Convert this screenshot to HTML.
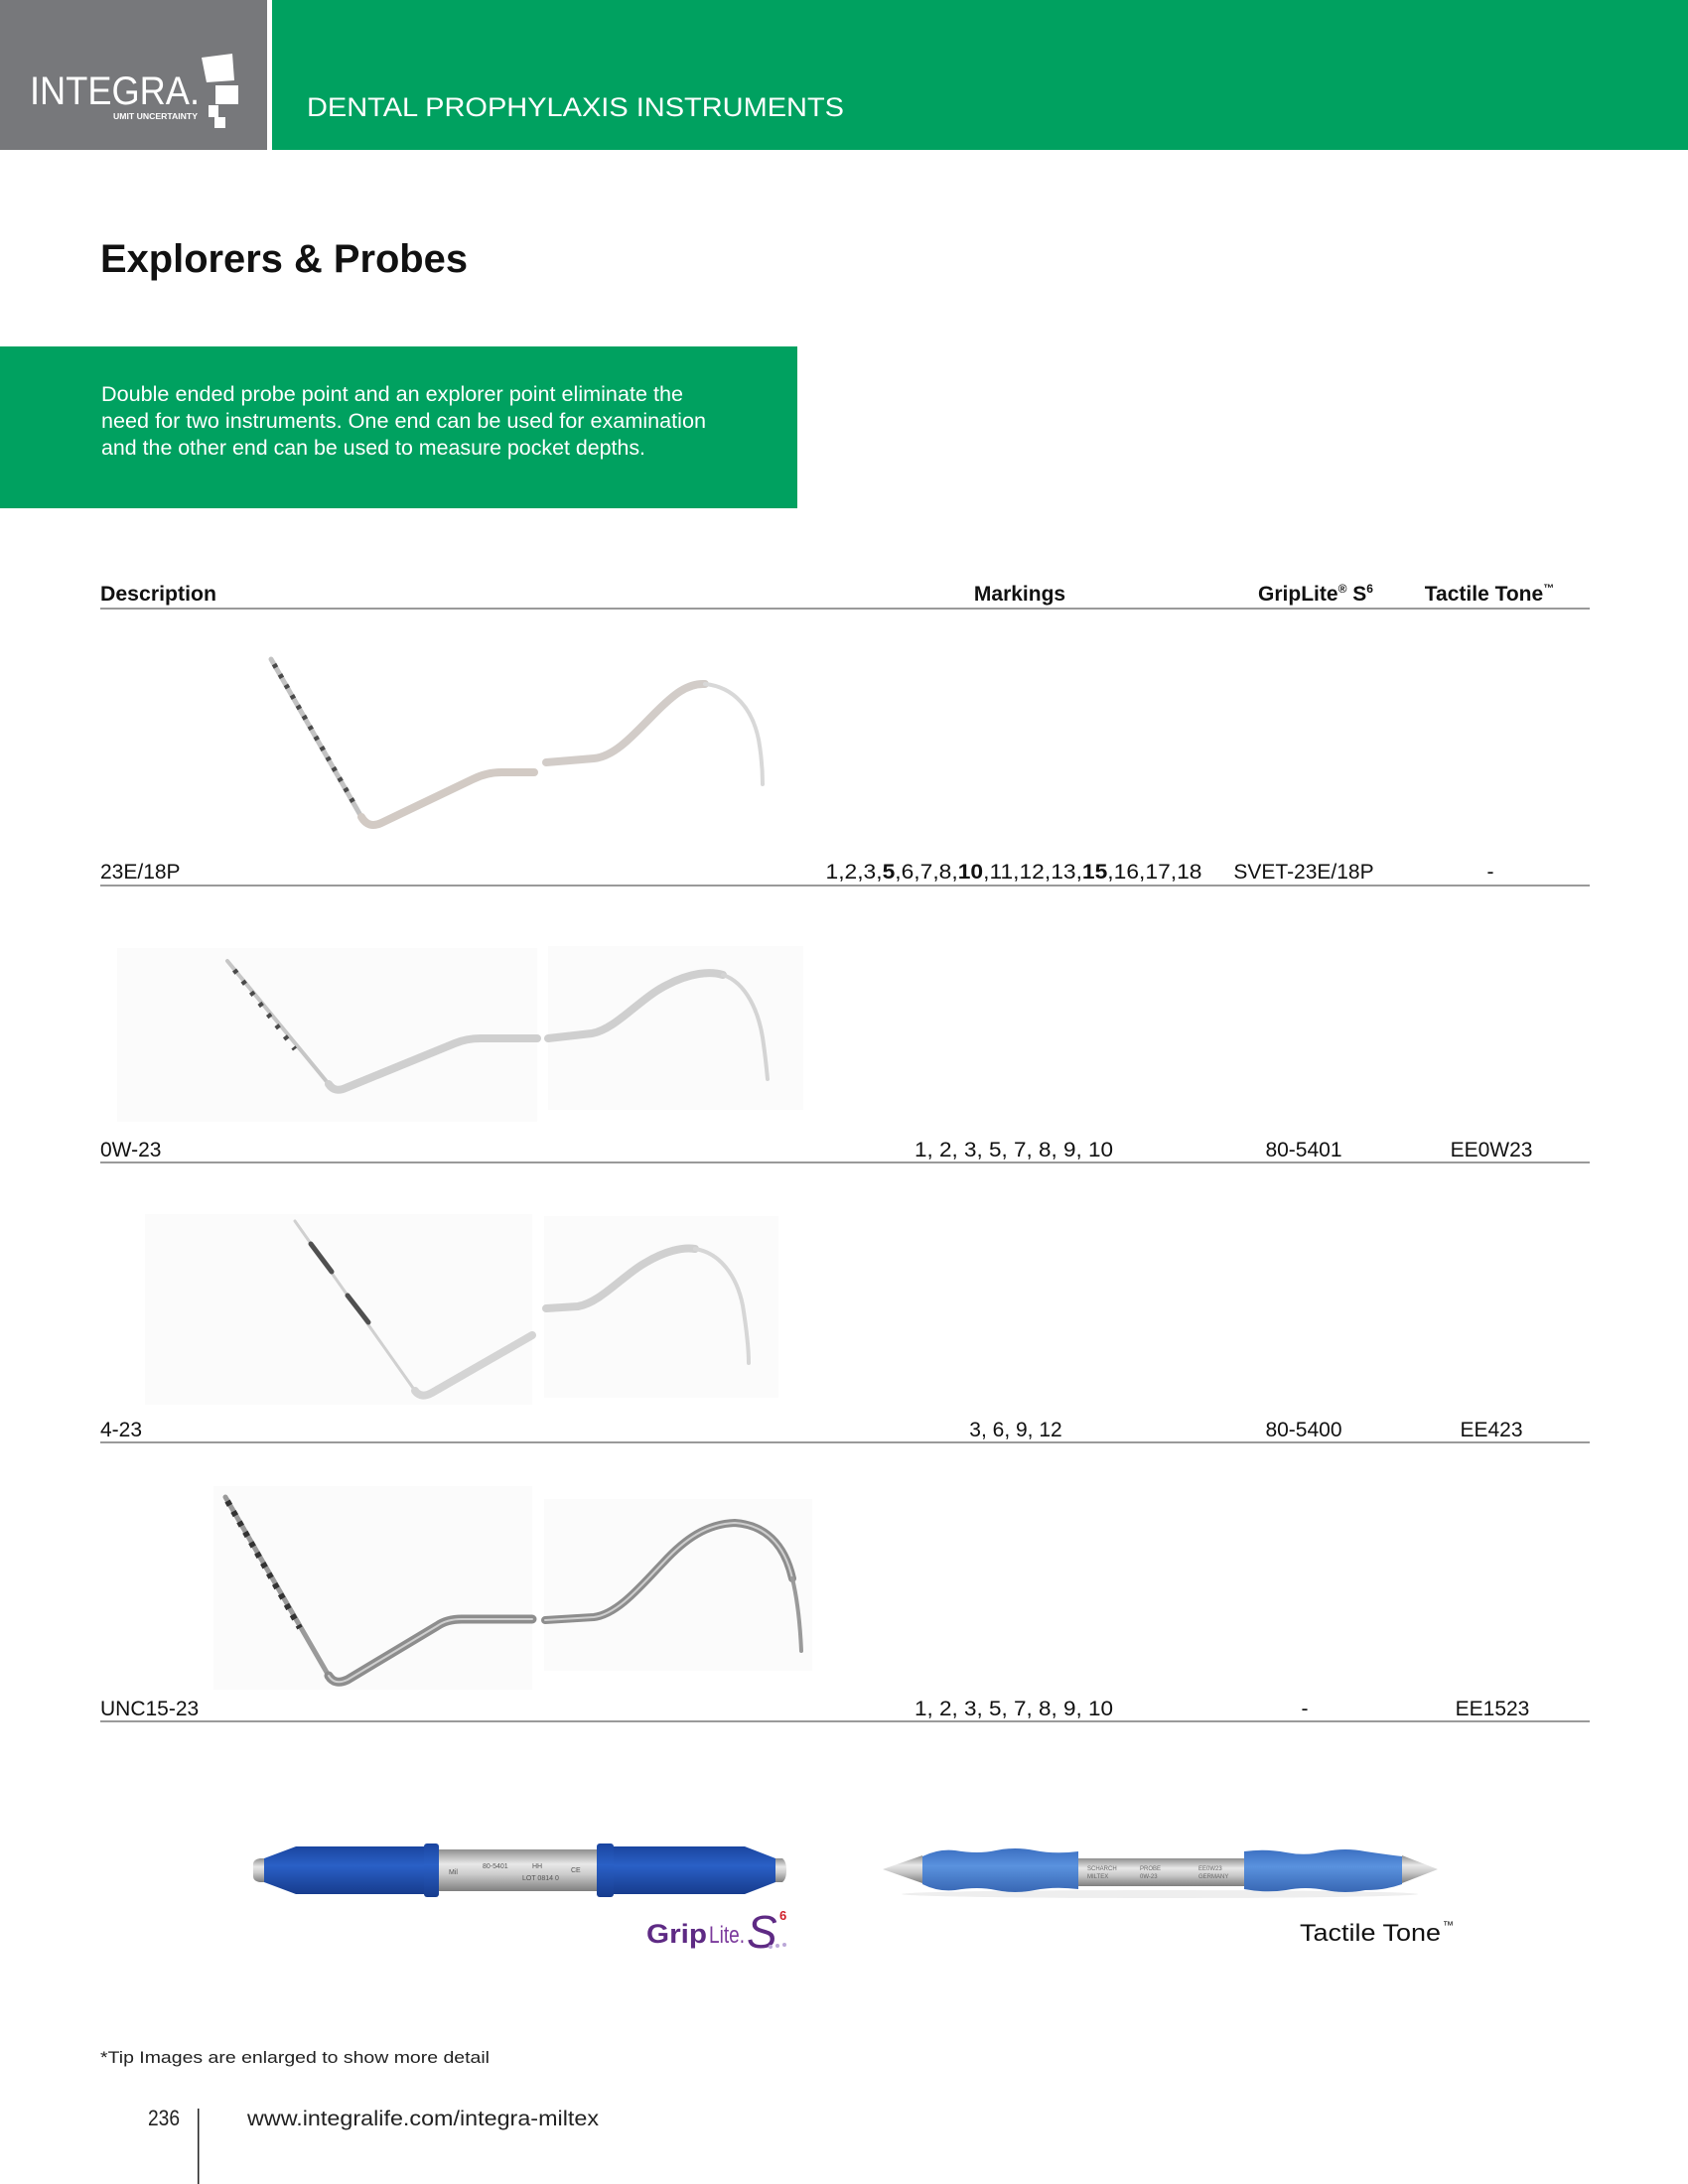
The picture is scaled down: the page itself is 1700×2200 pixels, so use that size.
<!DOCTYPE html>
<html><head><meta charset="utf-8">
<style>
html,body{margin:0;padding:0;background:#fff;}
svg{display:block;}
text{font-family:"Liberation Sans",sans-serif;}
</style></head><body>
<svg width="1700" height="2200" viewBox="0 0 1700 2200" xmlns="http://www.w3.org/2000/svg">
<defs>
 <linearGradient id="silver" x1="0" y1="0" x2="0" y2="1">
  <stop offset="0" stop-color="#8f8f8f"/><stop offset="0.35" stop-color="#e8e8e8"/><stop offset="0.6" stop-color="#cbcbcb"/><stop offset="1" stop-color="#7f7f7f"/>
 </linearGradient>
 <linearGradient id="blue1" x1="0" y1="0" x2="0" y2="1">
  <stop offset="0" stop-color="#1a45a0"/><stop offset="0.4" stop-color="#2a60c6"/><stop offset="1" stop-color="#173c8e"/>
 </linearGradient>
 <linearGradient id="blue2" x1="0" y1="0" x2="0" y2="1">
  <stop offset="0" stop-color="#3c70c2"/><stop offset="0.4" stop-color="#5a92de"/><stop offset="1" stop-color="#3867b4"/>
 </linearGradient>
</defs>

<!-- Header -->
<rect x="0" y="0" width="269" height="151" fill="#77787b"/>
<rect x="274" y="0" width="1426" height="151" fill="#00a160"/>
<text x="30" y="105" font-size="40" fill="#fff" textLength="171" lengthAdjust="spacingAndGlyphs">INTEGRA.</text>
<polygon points="203,58 234,54 236,81 208,83" fill="#fff"/>
<rect x="217" y="86" width="23" height="19" fill="#fff"/>
<rect x="210" y="106" width="10" height="12" fill="#fff"/>
<rect x="216" y="118" width="11" height="11" fill="#fff"/>
<text x="114" y="120" font-size="8" font-weight="bold" fill="#fff" textLength="85" lengthAdjust="spacingAndGlyphs">UMIT UNCERTAINTY</text>
<text x="309" y="117" font-size="27" fill="#fff" textLength="541" lengthAdjust="spacingAndGlyphs">DENTAL PROPHYLAXIS INSTRUMENTS</text>

<!-- Title -->
<text x="101" y="274" font-size="40" font-weight="bold" fill="#111" textLength="370" lengthAdjust="spacingAndGlyphs">Explorers &amp; Probes</text>

<!-- Green intro box -->
<rect x="0" y="349" width="803" height="163" fill="#00a160"/>
<text x="102" y="404" font-size="21.5" fill="#fff" textLength="586" lengthAdjust="spacingAndGlyphs">Double ended probe point and an explorer point eliminate the</text>
<text x="102" y="431" font-size="21.5" fill="#fff" textLength="609" lengthAdjust="spacingAndGlyphs">need for two instruments. One end can be used for examination</text>
<text x="102" y="458" font-size="21.5" fill="#fff" textLength="548" lengthAdjust="spacingAndGlyphs">and the other end can be used to measure pocket depths.</text>

<!-- Table header -->
<text x="101" y="605" font-size="21" font-weight="bold" fill="#111" textLength="117" lengthAdjust="spacingAndGlyphs">Description</text>
<text x="1027" y="605" font-size="21" font-weight="bold" fill="#111" text-anchor="middle">Markings</text>
<text x="1325" y="605" font-size="21" font-weight="bold" fill="#111" text-anchor="middle">GripLite<tspan font-size="12" dy="-8">®</tspan><tspan dy="8"> S</tspan><tspan font-size="12" dy="-8">6</tspan></text>
<text x="1500" y="605" font-size="21" font-weight="bold" fill="#111" text-anchor="middle">Tactile Tone<tspan font-size="11" dy="-9">™</tspan></text>
<rect x="101" y="612" width="1500" height="2" fill="#9a9a9a"/>

<!-- Row backgrounds -->
<rect x="118" y="955" width="423" height="175" fill="#fbfbfb"/>
<rect x="552" y="953" width="257" height="165" fill="#fbfbfb"/>
<rect x="146" y="1223" width="390" height="192" fill="#fbfbfb"/>
<rect x="548" y="1225" width="236" height="183" fill="#fbfbfb"/>
<rect x="215" y="1497" width="321" height="205" fill="#fbfbfb"/>
<rect x="548" y="1510" width="270" height="173" fill="#fbfbfb"/>

<g fill="none" stroke-linecap="round" stroke-linejoin="round">
<!-- Row 1 -->
<path d="M273,664 L364,823" stroke="#c2c2c2" stroke-width="5"/>
<path d="M276,669 L358,812" stroke="#4a4a4a" stroke-width="5" stroke-dasharray="4 8" stroke-linecap="butt"/>
<path d="M364,823 Q371,835 384,829 L476,785 Q490,778 505,778 L538,778" stroke="#d2cac4" stroke-width="8"/>
<path d="M550,768 L598,764 C620,762 640,738 660,718 C678,700 692,688 710,689" stroke="#d2ccc8" stroke-width="8"/>
<path d="M710,689 C740,692 758,715 764,745 C767,762 768,778 768,790" stroke="#d8d8d8" stroke-width="4"/>

<!-- Row 2 -->
<path d="M229,968 L331,1092" stroke="#c6c6c6" stroke-width="4"/>
<path d="M236,977 L297,1057" stroke="#4a4a4a" stroke-width="5" stroke-dasharray="4 10" stroke-linecap="butt"/>
<path d="M331,1092 Q337,1101 348,1096 L458,1051 Q470,1046 484,1046 L541,1046" stroke="#cfcfcf" stroke-width="8"/>
<path d="M552,1046 L596,1041 C620,1037 645,1005 672,992 C695,980 715,978 728,982" stroke="#cfcfcf" stroke-width="8"/>
<path d="M728,982 C752,990 764,1020 768,1045 C771,1065 773,1087 773,1087" stroke="#d4d4d4" stroke-width="4"/>

<!-- Row 3 -->
<path d="M297,1230 L418,1401" stroke="#d0d0d0" stroke-width="3"/>
<path d="M313,1253 L334,1281" stroke="#505050" stroke-width="5"/>
<path d="M350,1305 L371,1332" stroke="#505050" stroke-width="5"/>
<path d="M418,1401 Q424,1409 435,1403 L536,1345" stroke="#d4d4d4" stroke-width="8"/>
<path d="M550,1318 L582,1316 C605,1312 628,1284 650,1272 C670,1260 688,1256 700,1258" stroke="#d0d0d0" stroke-width="8"/>
<path d="M700,1258 C725,1262 742,1285 748,1315 C752,1340 754,1360 754,1373" stroke="#d6d6d6" stroke-width="4"/>

<!-- Row 4 -->
<path d="M227,1508 L331,1688" stroke="#9a9a9a" stroke-width="5"/>
<path d="M229,1512 L302,1640" stroke="#333" stroke-width="6" stroke-dasharray="5 7" stroke-linecap="butt"/>
<path d="M331,1688 Q337,1698 350,1692 L440,1638 Q450,1631 465,1631 L536,1631" stroke="#8d8d8d" stroke-width="9"/>
<path d="M331,1688 Q337,1698 350,1692 L440,1638 Q450,1631 465,1631 L536,1631" stroke="#cfcfcf" stroke-width="2"/>
<path d="M549,1632 L598,1629 C622,1626 645,1598 668,1574 C690,1550 712,1535 740,1534 C770,1536 790,1555 798,1590" stroke="#8d8d8d" stroke-width="8"/>
<path d="M549,1632 L598,1629 C622,1626 645,1598 668,1574 C690,1550 712,1535 740,1534 C770,1536 790,1555 798,1590" stroke="#cfcfcf" stroke-width="2"/>
<path d="M798,1590 C804,1615 806,1640 807,1663" stroke="#9a9a9a" stroke-width="4"/>
</g>

<!-- Row texts & lines -->
<g font-size="21" fill="#111">
<text x="101" y="885">23E/18P</text>
<text x="1021" y="885" text-anchor="middle" textLength="379" lengthAdjust="spacingAndGlyphs">1,2,3,<tspan font-weight="bold">5</tspan>,6,7,8,<tspan font-weight="bold">10</tspan>,11,12,13,<tspan font-weight="bold">15</tspan>,16,17,18</text>
<text x="1313" y="885" text-anchor="middle">SVET-23E/18P</text>
<text x="1501" y="885" text-anchor="middle">-</text>

<text x="101" y="1165">0W-23</text>
<text x="1021" y="1165" text-anchor="middle" textLength="200" lengthAdjust="spacingAndGlyphs">1, 2, 3, 5, 7, 8, 9, 10</text>
<text x="1313" y="1165" text-anchor="middle">80-5401</text>
<text x="1502" y="1165" text-anchor="middle">EE0W23</text>

<text x="101" y="1447">4-23</text>
<text x="1023" y="1447" text-anchor="middle">3, 6, 9, 12</text>
<text x="1313" y="1447" text-anchor="middle">80-5400</text>
<text x="1502" y="1447" text-anchor="middle">EE423</text>

<text x="101" y="1728">UNC15-23</text>
<text x="1021" y="1728" text-anchor="middle" textLength="200" lengthAdjust="spacingAndGlyphs">1, 2, 3, 5, 7, 8, 9, 10</text>
<text x="1314" y="1728" text-anchor="middle">-</text>
<text x="1503" y="1728" text-anchor="middle">EE1523</text>
</g>
<rect x="101" y="891" width="1500" height="2" fill="#9a9a9a"/>
<rect x="101" y="1170" width="1500" height="2" fill="#9a9a9a"/>
<rect x="101" y="1452" width="1500" height="2" fill="#9a9a9a"/>
<rect x="101" y="1733" width="1500" height="2" fill="#9a9a9a"/>

<!-- GripLite handle -->
<path d="M255,1878 Q255,1873 262,1872 L268,1872 L268,1896 L262,1896 Q255,1895 255,1890 Z" fill="url(#silver)"/>
<path d="M266,1872 L298,1860 L428,1860 L428,1908 L298,1908 L266,1896 Z" fill="url(#blue1)"/>
<rect x="427" y="1857" width="15" height="54" rx="3" fill="url(#blue1)"/>
<rect x="442" y="1863" width="159" height="42" fill="url(#silver)"/>
<rect x="601" y="1857" width="17" height="54" rx="3" fill="url(#blue1)"/>
<path d="M618,1860 L750,1860 L781,1872 L781,1896 L750,1908 L618,1908 Z" fill="url(#blue1)"/>
<path d="M781,1872 L788,1872 Q792,1875 792,1884 Q792,1893 788,1896 L781,1896 Z" fill="url(#silver)"/>
<g fill="#555" font-size="7"><text x="452" y="1888">Mil</text><text x="486" y="1882">80-5401</text><text x="536" y="1882">HH</text><text x="526" y="1894">LOT 0814 0</text><text x="575" y="1886">CE</text></g>

<!-- GripLite logo -->
<text x="651" y="1957" font-size="27" font-weight="bold" fill="#5e2a84" textLength="61" lengthAdjust="spacingAndGlyphs">Grip</text>
<text x="714" y="1957" font-size="24" fill="#7b3a9c" textLength="36" lengthAdjust="spacingAndGlyphs">Lite.</text>
<text x="752" y="1962" font-size="46" font-style="italic" fill="#5e2a84">S</text>
<text x="785" y="1934" font-size="13" font-weight="bold" fill="#d0202a">6</text>
<circle cx="776" cy="1961" r="2" fill="#bba8d8"/><circle cx="783" cy="1960" r="2" fill="#bba8d8"/><circle cx="790" cy="1959" r="2" fill="#bba8d8"/>

<!-- Tactile Tone handle -->
<ellipse cx="1168" cy="1908" rx="260" ry="4" fill="#eeeeee"/>
<path d="M889,1883 L929,1869 L929,1897 Z" fill="url(#silver)"/>
<path d="M929,1870 Q945,1862 962,1864 Q985,1868 1003,1864 Q1022,1860 1042,1864 Q1062,1868 1086,1865 L1086,1903 Q1062,1900 1042,1904 Q1022,1908 1003,1904 Q985,1900 962,1904 Q945,1906 929,1898 Z" fill="url(#blue2)"/>
<rect x="1086" y="1872" width="167" height="28" fill="url(#silver)"/>
<path d="M1253,1865 Q1275,1862 1295,1866 Q1315,1870 1335,1865 Q1355,1861 1375,1865 Q1395,1868 1412,1870 L1412,1898 Q1395,1904 1375,1904 Q1355,1908 1335,1904 Q1315,1900 1295,1904 Q1275,1907 1253,1903 Z" fill="url(#blue2)"/>
<path d="M1412,1869 L1448,1883 L1412,1897 Z" fill="url(#silver)"/>
<g fill="#666" font-size="6"><text x="1095" y="1884">SCHARCH</text><text x="1148" y="1884">PROBE</text><text x="1207" y="1884">EE0W23</text><text x="1095" y="1892">MILTEX</text><text x="1148" y="1892">0W-23</text><text x="1207" y="1892">GERMANY</text></g>
<text x="1309" y="1955" font-size="24" fill="#111" textLength="142" lengthAdjust="spacingAndGlyphs">Tactile Tone</text>
<text x="1453" y="1943" font-size="11" fill="#111">™</text>

<!-- Footer -->
<text x="101" y="2078" font-size="17" fill="#222" textLength="392" lengthAdjust="spacingAndGlyphs">*Tip Images are enlarged to show more detail</text>
<text x="149" y="2141" font-size="22" fill="#222" textLength="32" lengthAdjust="spacingAndGlyphs">236</text>
<rect x="199" y="2124" width="1.5" height="76" fill="#222"/>
<text x="249" y="2141" font-size="21" fill="#222" textLength="354" lengthAdjust="spacingAndGlyphs">www.integralife.com/integra-miltex</text>
</svg>
</body></html>
